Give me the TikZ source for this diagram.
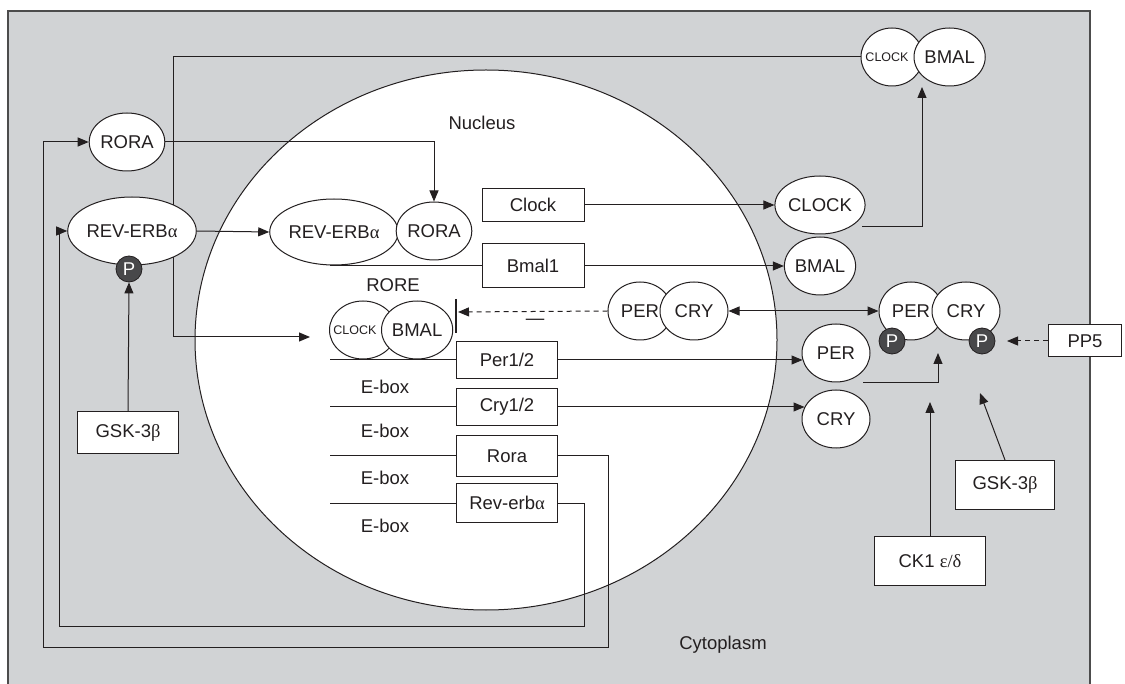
\documentclass[tikz,border=0pt]{standalone}
\usepackage{fontspec}
\setmainfont{Liberation Sans}
\newfontfamily\grk{Liberation Serif}
\usetikzlibrary{positioning,shapes.geometric,arrows.meta,backgrounds}
\definecolor{CellGray}{RGB}{209,211,213}
\definecolor{InkDark}{RGB}{35,31,32}
\definecolor{PhosGray}{RGB}{72,72,74}
\pgfdeclarelayer{links}
\pgfsetlayers{background,links,main}

\begin{document}
\begin{tikzpicture}[x=1pt,y=-1pt]
	\tikzset{
		prot/.style={ellipse, draw=InkDark, line width=1pt, fill=white, text=InkDark,
			minimum width=68pt, minimum height=58pt, inner sep=0pt, font=\fontsize{18.5}{20}\selectfont},
		gene/.style={rectangle, draw=InkDark, line width=1pt, fill=white, text=InkDark,
			minimum width=101pt, minimum height=37pt, inner sep=0pt, font=\fontsize{18.5}{20}\selectfont},
		phos/.style={circle, draw=InkDark, line width=0.8pt, fill=PhosGray, text=white,
			minimum size=26pt, inner sep=0pt, font=\fontsize{18.5}{20}\selectfont},
		lbl/.style={text=InkDark, inner sep=0pt, font=\fontsize{18.5}{20}\selectfont},
		small/.style={text=InkDark, inner sep=0pt, font=\fontsize{12.5}{14}\selectfont},
		a/.style={-{Triangle[length=11pt,width=9pt]}, draw=InkDark, line width=1pt},
		aa/.style={{Triangle[length=11pt,width=9pt]}-{Triangle[length=11pt,width=9pt]}, draw=InkDark, line width=1pt},
		ln/.style={draw=InkDark, line width=1pt},
		dsh/.style={dash pattern=on 5pt off 4pt}
	}
	\useasboundingbox (0,0) rectangle (1125,684);
	
	% ======= cell and nucleus =======
	\begin{pgfonlayer}{background}
		\draw[fill=CellGray, draw=black!70, line width=1.3pt] (8,11) rectangle (1090,700);
		\draw[fill=white, draw=InkDark, line width=1pt] (486,340) ellipse [x radius=291pt, y radius=270pt];
	\end{pgfonlayer}
	\node[lbl] (nuc) at (482,123) {Nucleus};
	\node[lbl] (cyt) at (723,645) {Cytoplasm};
	
	% ======= cytoplasm, left side =======
	\node[prot] (RORAc) at (127,142) {RORA};
	\node[prot, minimum width=110pt, minimum height=68pt] (REVc) at (132,231) {REV-ERB{\grk α}};
	\node[phos] (pRev) at (129,269) {P};
	\node[gene, minimum height=42pt] (gskL) at (128,433) {GSK-3{\grk β}};
	
	% ======= nucleus =======
	\node[prot, minimum width=112pt, minimum height=66pt] (revN) at (334,232) {REV-ERB{\grk α}};
	\node[prot] (rorN) at (434,231) {RORA};
	\node[gene, minimum width=102pt, minimum height=33pt] (Clock) at (533,205) {Clock};
	\node[gene, minimum width=102pt, minimum height=44pt] (Bmal) at (533,266) {Bmal1};
	\node[lbl] (rore) at (393,285) {RORE};
	\node[prot, minimum width=67pt, label={[small, xshift=-8pt]center:CLOCK}] (clkN) at (363,330) {};
	\node[prot, right=-16pt of clkN] (bmalN) {BMAL};
	\node[prot, minimum width=64pt] (perN) at (640,311) {PER};
	\node[prot, right=-13pt of perN] (cryN) {CRY};
	\node[lbl] (minus) at (535,322) {—};
	\node[gene] (Per) at (507,360) {Per1/2};
	\node[gene] (Cry) at (507,407) {Cry1/2};
	\node[gene, minimum height=41pt] (Rora) at (507,456) {Rora};
	\node[gene, minimum height=38pt] (Reverb) at (507,503) {Rev-erb{\grk α}};
	\node[lbl] (eb1) at (385,387) {E-box};
	\node[lbl] (eb2) at (385,431) {E-box};
	\node[lbl] (eb3) at (385,478) {E-box};
	\node[lbl] (eb4) at (385,526) {E-box};
	
	% ======= cytoplasm, right side =======
	\node[prot, minimum width=62pt, label={[small, xshift=-5pt]center:CLOCK}] (clkC) at (892,57) {};
	\node[prot, right=-10pt of clkC] (bmalC) {BMAL};
	\node[prot] (CLOCKc) at (820,205) {CLOCK};
	\node[prot] (BMALc) at (820,266) {BMAL};
	\node[prot, minimum width=64pt] (perC) at (911,311) {PER};
	\node[prot, right=-12pt of perC] (cryC) {CRY};
	\node[phos] (pPer) at (892,341) {P};
	\node[phos] (pCry) at (982,341) {P};
	\node[gene, minimum width=73pt, minimum height=32pt] (pp5) at (1085,341) {PP5};
	\node[prot] (PERc) at (836,353) {PER};
	\node[prot] (CRYc) at (836,419) {CRY};
	\node[gene, minimum width=99pt, minimum height=49pt] (gskR) at (1005,485) {GSK-3{\grk β}};
	\node[gene, minimum width=111pt, minimum height=49pt] (ck1) at (930,561) {CK1 {\grk ε/δ}};
	
	% free ends of connectors
	\coordinate (cbTip) at (310,337);
	\coordinate (barT) at (456,299);
	\coordinate (barB) at (456,333);
	\coordinate (barM) at (458,312);
	\coordinate (g1) at (330,266);
	\coordinate (g2) at (330,360);
	\coordinate (g3) at (330,407);
	\coordinate (g4) at (330,456);
	\coordinate (g5) at (330,503);
	\coordinate (c1) at (862,227);
	\coordinate (c2) at (922,87);
	\coordinate (p1) at (863,383);
	\coordinate (p2) at (938,353);
	\coordinate (ckTip) at (930,402);
	\coordinate (gTip) at (980,393);
	\coordinate (ppTip) at (1007,341);
	
	% ======= connectors =======
	\begin{pgfonlayer}{links}
		\draw[a] (clkC.west) -| (173,337) -- (cbTip);
		\draw[a] (RORAc.east) -| (rorN.north);
		\draw[a] (REVc.east) -- (revN.west);
		\draw[a] (gskL.north) -- (pRev.south);
		\draw[a] (Rora.east) -| (608,647) -| (43,142) -- (RORAc.west);
		\draw[a] (Reverb.east) -| (584,626) -| (59,231) -- (REVc.west);
		
		\draw[ln] (g1) -- (Bmal.west);
		\draw[ln] (g2) -- (Per.west);
		\draw[ln] (g3) -- (Cry.west);
		\draw[ln] (g4) -- (Rora.west);
		\draw[ln] (g5) -- (Reverb.west);
		\draw[a] (Clock.east) -- (CLOCKc.west);
		\draw[a] (Bmal.east) -- (BMALc.west);
		\draw[a] (Per.east) -- ([xshift=1pt]Per.east -| PERc.west);
		\draw[a] (Cry.east) -- ([xshift=3pt]Cry.east -| CRYc.west);
		
		\draw[ln, line width=1.3pt] (barT) -- (barB);
		\draw[a, dsh] (perN.west) -- (barM);
		\draw[aa] (cryN.east) -- (perC.west);
		
		\draw[a] (c1) -| (c2);
		\draw[a] (p1) -| (p2);
		\draw[a] (ck1.north -| ckTip) -- (ckTip);
		\draw[a] (gskR.north) -- (gTip);
		\draw[a, dsh] (pp5.west) -- (ppTip);
	\end{pgfonlayer}
\end{tikzpicture}
\end{document}
